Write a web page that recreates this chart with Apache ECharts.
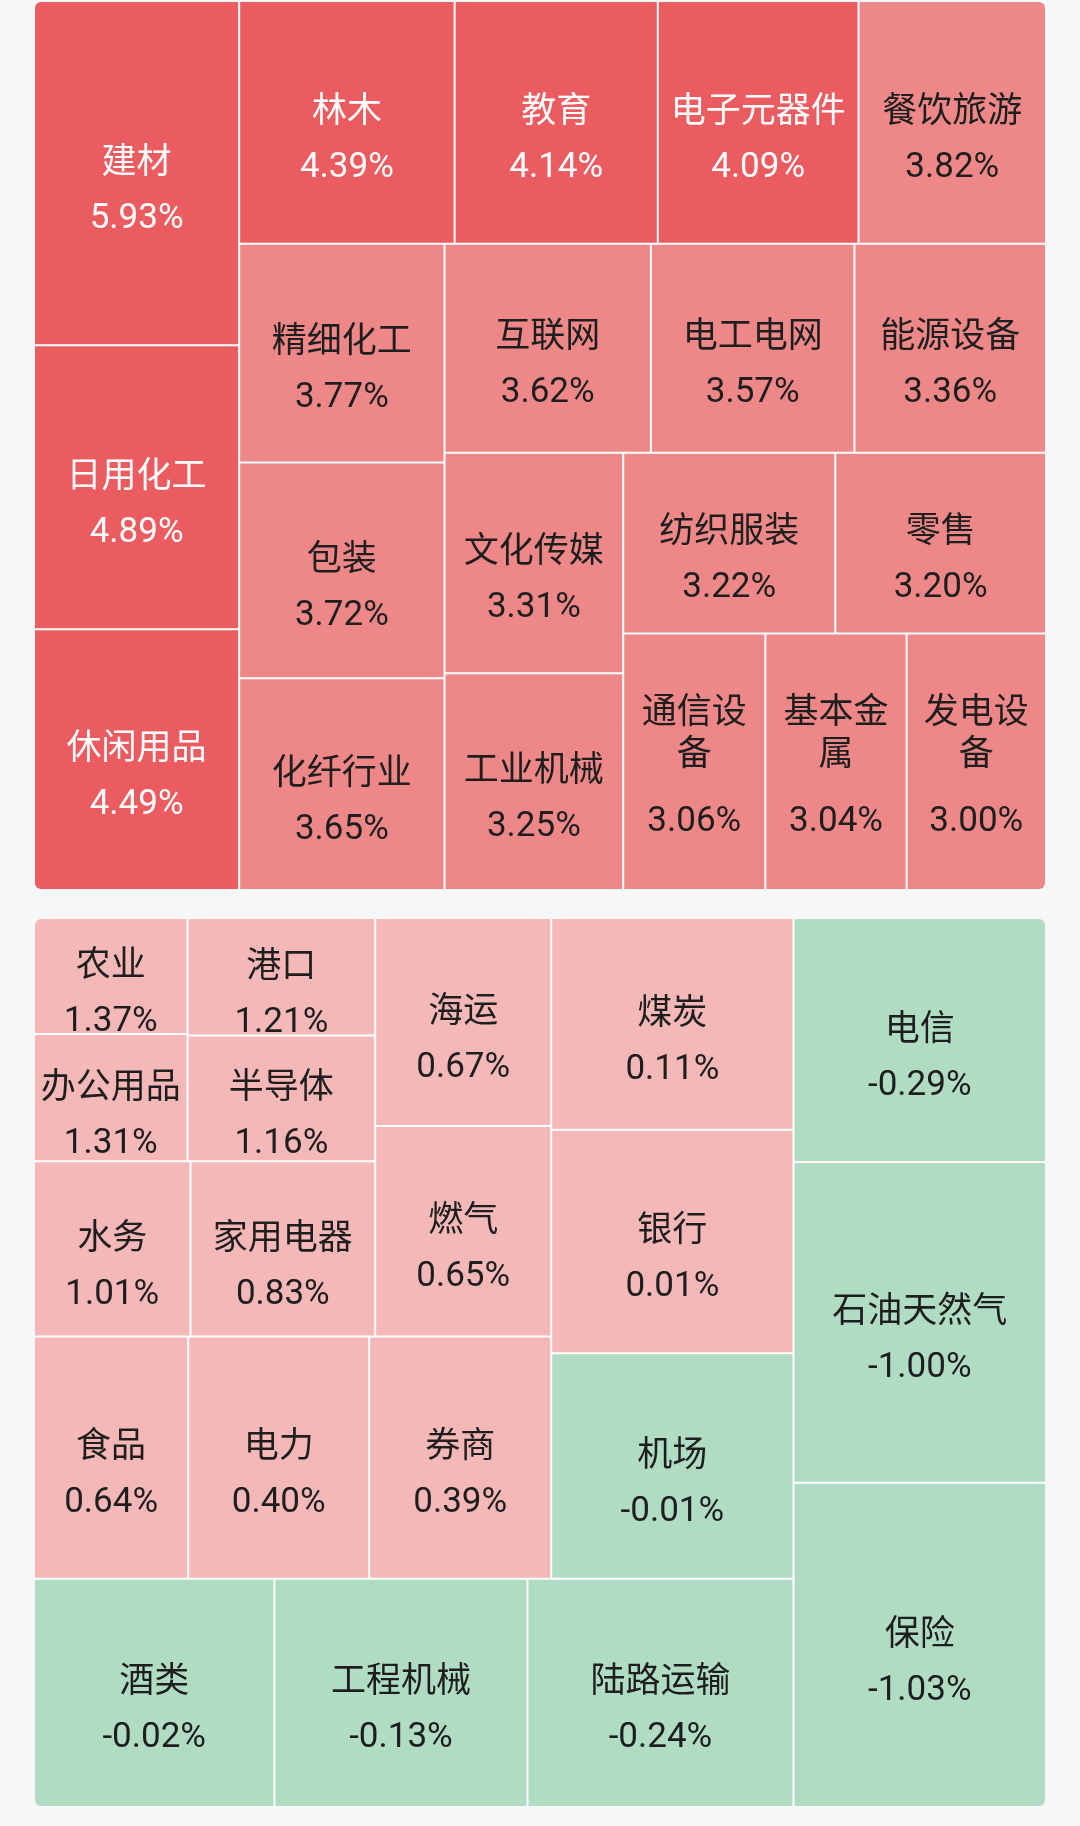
<!DOCTYPE html>
<html lang="zh-CN">
<head>
<meta charset="utf-8" />
<title>行业涨跌</title>
<script src="https://cdn.jsdelivr.net/npm/echarts@6/dist/echarts.min.js"></script>
<style>
	html,body{margin:0;padding:0;background:#f7f7f7;}
	body{width:1080px;height:1826px;position:relative;overflow:hidden;}
	.box{position:absolute;left:35px;width:1010px;height:887px;border-radius:6px;overflow:hidden;}
	#top{top:2px;}
	/* the lower map is laid out from the bottom-right corner, so the whole box is turned round */
	#bottom{top:919px;transform:rotate(180deg);}
</style>
</head>
<body>
<div id="top" class="box"></div>
<div id="bottom" class="box"></div>
<script>
// 上半部分：涨幅居前的行业（块面积与涨幅成正比）
var topNames = ['建材','日用化工','休闲用品','林木','教育','电子元器件','餐饮旅游','精细化工','包装','化纤行业',
	'互联网','电工电网','能源设备','文化传媒','工业机械','纺织服装','零售','通信设备','基本金属','发电设备'];
var topPct = [5.93,4.89,4.49,4.39,4.14,4.09,3.82,3.77,3.72,3.65,3.62,3.57,3.36,3.31,3.25,3.22,3.20,3.06,3.04,3.00];
var topFirstColumn = 3;   // 最左一列的行业数

// 下半部分：其余行业
var bottomNames = ['保险','石油天然气','电信','陆路运输','工程机械','酒类','机场','银行','煤炭','券商',
	'电力','食品','燃气','海运','家用电器','水务','半导体','港口','办公用品','农业'];
var bottomPct = [-1.03,-1.00,-0.29,-0.24,-0.13,-0.02,-0.01,0.01,0.11,0.39,0.40,0.64,0.65,0.67,0.83,1.01,1.16,1.21,1.31,1.37];
// 块面积占比(%)
var bottomSize = [9.1,9.0,6.85,6.75,6.42,6.1,6.07,6.02,5.7,4.9,4.87,4.15,4.12,4.07,3.6,3.05,2.62,2.45,2.17,1.98];

var FONT = 'Roboto, "Noto Sans CJK SC", sans-serif';
var FS = 35, LH_NAME = 42, LH_VAL = 68, LH_VAL_WRAP = 90;
var pctByName = {};
var wrapped = {};   // 名称需要折行的行业

function fillOf(v){
	if(v>=4) return '#ea5c60';
	if(v>=2) return '#ee8888';
	if(v>=0) return '#f5b8b8';
	return '#b0dcc4';
}
function textOf(v){
	return v>=4 ? '#ffffff' : '#1e1e1e';
}
function makeItems(names,pct,size,offsets){
	return names.map(function(n,i){
		pctByName[n]=pct[i];
		var it = {
			name:n,
			value:size[i],
			itemStyle:{color:fillOf(pct[i])},
			label:{color:textOf(pct[i])}
		};
		if(offsets && offsets[n]!=null) it.label.offset=[0,offsets[n]];
		return it;
	});
}

function labelOpt(rot){
	return {
		show:true,
		position:'inside',
		padding:[0,5],
		overflow:'break',
		rotate:rot,
		lineHeight:LH_NAME,
		formatter:function(p){
			var v=pctByName[p.name];
			if(v==null) return '';
			var vs = wrapped[p.name] ? 'w' : 'v';
			return '{n|'+p.name+'}\n\n{'+vs+'|'+v.toFixed(2)+'%}';
		},
		rich:{
			n:{fontSize:FS,lineHeight:LH_NAME,fontFamily:FONT},
			v:{fontSize:FS,lineHeight:LH_VAL,fontFamily:FONT},
			w:{fontSize:FS,lineHeight:LH_VAL_WRAP,fontFamily:FONT}
		}
	};
}

function baseSeries(data,levels,rot){
	return {
		type:'treemap',
		left:0,top:0,right:0,bottom:0,
		sort:false,
		squareRatio:1.07,
		roam:false,
		nodeClick:false,
		animation:false,
		breadcrumb:{show:false},
		label:labelOpt(rot),
		upperLabel:{show:false},
		emphasis:{disabled:true},
		levels:levels,
		data:data
	};
}

var gapLevel={itemStyle:{borderColor:'#ffffff',borderWidth:0,gapWidth:2}};
var leafLevel={itemStyle:{borderColor:'#ffffff',borderWidth:0,gapWidth:0}};

// 文字在块内垂直居中：读出库算好的块大小，再给每个标签一个纵向偏移
var measureCtx = document.createElement('canvas').getContext('2d');
measureCtx.font = FS+'px '+FONT;
function nameLines(name,avail){
	var lines=1, acc=0;
	for(var i=0;i<name.length;i++){
		var w=measureCtx.measureText(name.charAt(i)).width;
		if(acc>0 && acc+w>avail){ lines++; acc=w; } else acc+=w;
	}
	return lines;
}
function labelOffsets(chart){
	var res={};
	var data=chart.getModel().getSeriesByIndex(0).getData();
	for(var i=0;i<data.count();i++){
		var name=data.getName(i);
		if(pctByName[name]==null) continue;
		var lay=data.getItemLayout(i);
		if(!lay) continue;
		var n=nameLines(name,lay.width-10);
		var blockH, shift;
		if(n>1){
			wrapped[name]=true;
			blockH=n*LH_NAME+LH_VAL_WRAP;
			shift=19;
		}else{
			blockH=LH_NAME+LH_VAL;
			shift=25;
		}
		res[name]=Math.round((lay.height-blockH)/2+shift);
	}
	return res;
}

function buildTop(offsets){
	var items=makeItems(topNames,topPct,topPct,offsets);
	return [
		{name:'col',children:items.slice(0,topFirstColumn)},
		{name:'rest',children:items.slice(topFirstColumn)}
	];
}
function buildBottom(offsets){
	return makeItems(bottomNames,bottomPct,bottomSize,offsets);
}

// 上图
var topChart = echarts.init(document.getElementById('top'));
topChart.setOption({animation:false,series:[baseSeries(buildTop(null),[gapLevel,gapLevel,leafLevel],0)]});
topChart.setOption({series:[{data:buildTop(labelOffsets(topChart))}]});

// 下图
var bottomChart = echarts.init(document.getElementById('bottom'));
bottomChart.setOption({animation:false,series:[baseSeries(buildBottom(null),[gapLevel,leafLevel],180)]});
bottomChart.setOption({series:[{data:buildBottom(labelOffsets(bottomChart))}]});
</script>
</body>
</html>
